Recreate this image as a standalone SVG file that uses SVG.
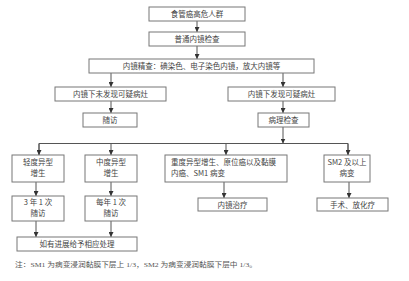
<svg xmlns="http://www.w3.org/2000/svg" width="409" height="281" viewBox="0 0 409 281">
<defs>
<marker id="ah" viewBox="0 0 6 6" refX="6" refY="3" markerWidth="5" markerHeight="5" orient="auto" markerUnits="userSpaceOnUse">
<path d="M0,0 L6,3 L0,6 z" fill="#333"/>
</marker>
<style>
rect{fill:#fff;stroke:#777;stroke-width:1}
text{font-family:"Noto Sans CJK SC","Liberation Sans",sans-serif;font-size:7.5px;fill:#444;text-anchor:middle}
.l{text-anchor:start}
.c line,.c path{stroke:#555;stroke-width:1;fill:none}
.a{marker-end:url(#ah)}
.note{font-family:"Liberation Serif","Noto Sans CJK SC",serif;font-size:6.5px;text-anchor:start;fill:#555}
</style>
</defs>
<rect x="0" y="0" width="409" height="281" style="fill:#fff;stroke:none"/>
<g class="c" id="connectors">
<line class="a" x1="197" y1="21" x2="197" y2="32"/>
<line class="a" x1="197" y1="46" x2="197" y2="59"/>
<line class="a" x1="111" y1="73" x2="111" y2="87"/>
<line class="a" x1="283" y1="73" x2="283" y2="87"/>
<line class="a" x1="111" y1="101" x2="111" y2="113"/>
<line class="a" x1="283" y1="101" x2="283" y2="113"/>
<line class="a" x1="283" y1="127" x2="283" y2="143.5"/>
<path d="M39,155 V143.5 H348 V155"/>
<line class="a" x1="39" y1="143.5" x2="39" y2="155"/>
<line class="a" x1="111" y1="143.5" x2="111" y2="155"/>
<line class="a" x1="226" y1="143.5" x2="226" y2="155"/>
<line class="a" x1="348" y1="143.5" x2="348" y2="155"/>
<line class="a" x1="36" y1="182" x2="36" y2="196"/>
<line class="a" x1="111" y1="182" x2="111" y2="196"/>
<line class="a" x1="224" y1="182" x2="224" y2="198"/>
<line class="a" x1="349" y1="182" x2="349" y2="198"/>
<line class="a" x1="36" y1="221" x2="36" y2="237"/>
<line class="a" x1="111" y1="221" x2="111" y2="237"/>
</g>
<g id="n1"><rect x="149" y="7" width="96" height="14"/><text x="197" y="17">食管癌高危人群</text></g>
<g id="n2"><rect x="149" y="32" width="96" height="14"/><text x="197" y="42">普通内镜检查</text></g>
<g id="n3"><rect x="89" y="59" width="225" height="14"/><text x="201.5" y="69">内镜精查：碘染色、电子染色内镜，放大内镜等</text></g>
<g id="n4"><rect x="55" y="87" width="111" height="14"/><text x="110.5" y="97">内镜下未发现可疑病灶</text></g>
<g id="n5"><rect x="228" y="87" width="107" height="14"/><text x="281.5" y="97">内镜下发现可疑病灶</text></g>
<g id="n6"><rect x="83" y="113" width="54" height="14"/><text x="110" y="123">随访</text></g>
<g id="n7"><rect x="258" y="113" width="51" height="14"/><text x="283.5" y="123">病理检查</text></g>
<g id="n8"><rect x="12" y="155" width="52" height="27"/><text x="38" y="165">轻度异型</text><text x="38" y="176">增生</text></g>
<g id="n9"><rect x="85" y="155" width="52" height="27"/><text x="111" y="165">中度异型</text><text x="111" y="176">增生</text></g>
<g id="n10"><rect x="165" y="155" width="122" height="27"/><text class="l" x="171" y="165">重度异型增生、原位癌以及黏膜</text><text class="l" x="171" y="176">内癌、SM1 病变</text></g>
<g id="n11"><rect x="324" y="155" width="46" height="27"/><text x="347" y="165">SM2 及以上</text><text x="347" y="176">病变</text></g>
<g id="n12"><rect x="12" y="196" width="52" height="25"/><text x="38" y="205">3 年 1 次</text><text x="38" y="216">随访</text></g>
<g id="n13"><rect x="85" y="196" width="52" height="25"/><text x="111" y="205">每年 1 次</text><text x="111" y="216">随访</text></g>
<g id="n14"><rect x="198" y="198" width="69" height="13"/><text x="232.5" y="207.5">内镜治疗</text></g>
<g id="n15"><rect x="317" y="198" width="71" height="13"/><text x="352.5" y="207.5">手术、放化疗</text></g>
<g id="n16"><rect x="17" y="237" width="120" height="14"/><text x="77" y="247">如有进展给予相应处理</text></g>
<text class="note" x="15" y="267" textLength="242" lengthAdjust="spacingAndGlyphs">注：SM1 为病变浸润黏膜下层上 1/3，SM2 为病变浸润黏膜下层中 1/3。</text>
</svg>
